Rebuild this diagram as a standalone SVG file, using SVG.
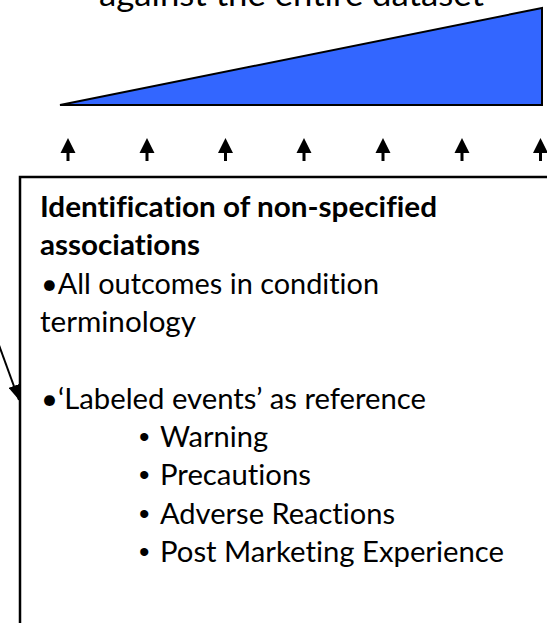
<svg xmlns="http://www.w3.org/2000/svg" width="547" height="623" viewBox="0 0 547 623">
<style>
  .t { font-family: Lato, "Open Sans", "Liberation Sans", sans-serif; fill: #000; font-variant-ligatures: none; }
  .reg { font-size: 29px; }
  .bold { font-size: 29px; font-weight: bold; }
  .sb { font-family: "Liberation Sans", Arial, sans-serif; font-size: 30px; fill: #000; }
  .conn { stroke: #000; stroke-width: 2; fill: none; }
</style>
<defs>
  <path id="up" d="M0,0 L7.5,15 L1.5,15 L1.5,23 L-1.5,23 L-1.5,15 L-7.5,15 Z" fill="#000"/>
  <marker id="ah" markerUnits="userSpaceOnUse" markerWidth="15" markerHeight="11" refX="15" refY="5.5" orient="auto">
    <path d="M0,0 L15,5.5 L0,11 Z" fill="#000"/>
  </marker>
</defs>
<rect width="547" height="623" fill="#fff"/>

<g id="title">
  <text class="t" x="291.5" y="6" font-size="33.5" text-anchor="middle" textLength="385" lengthAdjust="spacingAndGlyphs">against the entire dataset</text>
</g>

<g id="wedge">
  <polygon points="60,105 542,8 542,105" fill="#3366FF" stroke="#000" stroke-width="2" stroke-linejoin="miter"/>
</g>

<g id="box">
  <rect x="20" y="177" width="570" height="480" fill="#fff" stroke="#000" stroke-width="2.5"/>
  <text class="t bold" x="40" y="217" textLength="397" lengthAdjust="spacingAndGlyphs">Identification of non-specified</text>
  <text class="t bold" x="40" y="255" textLength="160" lengthAdjust="spacingAndGlyphs">associations</text>
  <text class="t reg" x="41" y="293.5" textLength="338" lengthAdjust="spacingAndGlyphs">•All outcomes in condition</text>
  <text class="t reg" x="40" y="332" textLength="156" lengthAdjust="spacingAndGlyphs">terminology</text>
  <text class="t reg" x="41" y="408.5" textLength="385" lengthAdjust="spacingAndGlyphs">•‘Labeled events’ as reference</text>
  <text class="sb" x="139" y="447">•</text>
  <text class="t reg" x="160" y="447" textLength="108" lengthAdjust="spacingAndGlyphs">Warning</text>
  <text class="sb" x="139" y="485">•</text>
  <text class="t reg" x="160" y="485" textLength="151" lengthAdjust="spacingAndGlyphs">Precautions</text>
  <text class="sb" x="139" y="523.5">•</text>
  <text class="t reg" x="160" y="523.5" textLength="235" lengthAdjust="spacingAndGlyphs">Adverse Reactions</text>
  <text class="sb" x="139" y="562">•</text>
  <text class="t reg" x="160" y="562" textLength="344" lengthAdjust="spacingAndGlyphs">Post Marketing Experience</text>
</g>

<g id="connectors">
  <use href="#up" x="68" y="138"/>
  <use href="#up" x="147" y="138"/>
  <use href="#up" x="225.5" y="138"/>
  <use href="#up" x="304" y="138"/>
  <use href="#up" x="383" y="138"/>
  <use href="#up" x="462" y="138"/>
  <use href="#up" x="540.5" y="138"/>
  <line class="conn" x1="-4" y1="337" x2="19" y2="400" marker-end="url(#ah)"/>
</g>
</svg>
